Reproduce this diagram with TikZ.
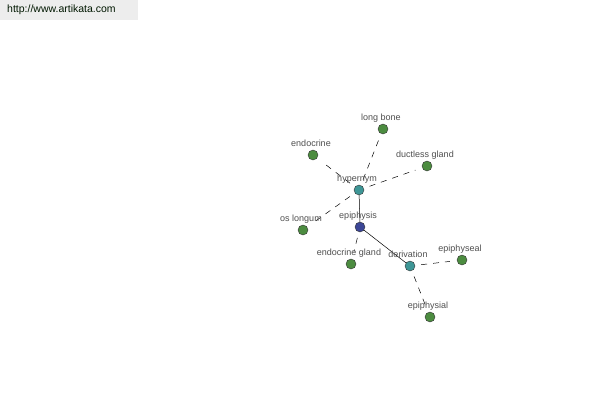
\documentclass[tikz,border=0pt]{standalone}
\usepackage{fontspec}
\setmainfont{Liberation Sans}
\definecolor{leaf}{RGB}{76,140,64}
\definecolor{rel}{RGB}{62,150,150}
\definecolor{word}{RGB}{60,70,150}
\definecolor{lbl}{RGB}{80,80,80}
\tikzset{
  dot/.style={circle,draw=black!80,line width=0.4pt,minimum size=10pt,inner sep=0pt},
  lab/.style={font=\fontsize{9}{10}\selectfont,text=lbl,anchor=base,yshift=9pt,xshift=-2pt,inner sep=0pt},
  syn/.style={dash pattern=on 6pt off 6pt,black,line width=0.5pt,shorten <=6pt,shorten >=7pt}
}
\begin{document}
\begin{tikzpicture}[x=1pt,y=-1pt]
\useasboundingbox[fill=white] (0,0) rectangle (600,400);
\fill[black!7] (0,0) rectangle (138,20);
\node[anchor=west,font=\fontsize{10.5}{12}\selectfont,text=black!70!green!30!black,inner sep=0pt] at (7,10) {http://www.artikata.com};

\node[dot,fill=rel] (hyp) at (359,190) {};
\node[dot,fill=word] (epi) at (360,227) {};
\node[dot,fill=rel] (der) at (410,266) {};
\node[dot,fill=leaf] (lb) at (383,129) {};
\node[dot,fill=leaf] (endo) at (313,155) {};
\node[dot,fill=leaf] (dg) at (427,166) {};
\node[dot,fill=leaf] (ol) at (303,230) {};
\node[dot,fill=leaf] (eg) at (351,264) {};
\node[dot,fill=leaf] (eal) at (462,260) {};
\node[dot,fill=leaf] (ial) at (430,317) {};

\draw[syn] (hyp) -- (lb);
\draw[syn] (hyp) -- (endo);
\draw[syn] (hyp) -- (dg);
\draw[syn] (hyp) -- (ol);
\draw[syn] (epi) -- (eg);
\draw[syn] (der) -- (eal);
\draw[syn] (der) -- (ial);
\draw[black,line width=0.5pt] (hyp) -- (epi) -- (der);

\node[lab] at (hyp) {hypernym};
\node[lab] at (epi) {epiphysis};
\node[lab] at (der) {derivation};
\node[lab] at (lb) {long bone};
\node[lab] at (endo) {endocrine};
\node[lab] at (dg) {ductless gland};
\node[lab] at (ol) {os longum};
\node[lab] at (eg) {endocrine gland};
\node[lab] at (eal) {epiphyseal};
\node[lab] at (ial) {epiphysial};
\end{tikzpicture}
\end{document}
